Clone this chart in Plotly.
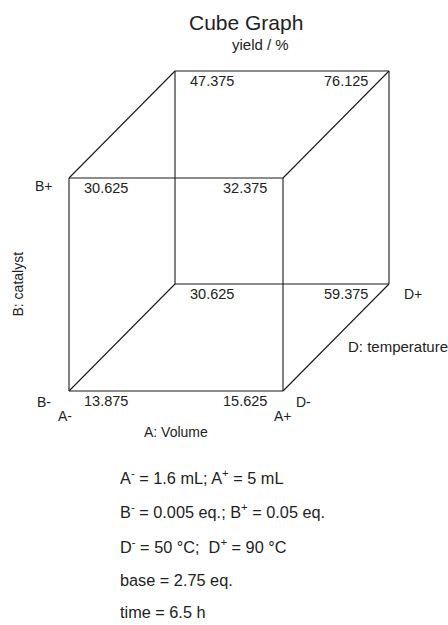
import plotly.graph_objects as go

# ---- data ----
factor_A_levels = ["A-", "A+"]
factor_B_levels = ["B-", "B+"]
factor_D_levels = ["D-", "D+"]
# yields at each corner, keyed by (A, B, D) level index
corner_keys = [(0, 0, 0), (1, 0, 0), (0, 1, 0), (1, 1, 0),
               (0, 0, 1), (1, 0, 1), (0, 1, 1), (1, 1, 1)]
yield_values = [13.875, 15.625, 30.625, 32.375,
                30.625, 59.375, 47.375, 76.125]
axis_titles = ["A: Volume", "B: catalyst", "D: temperature"]
chart_title = "Cube Graph"
value_unit = "yield / %"
conditions = [
    "A<sup>-</sup> = 1.6 mL; A<sup>+</sup> = 5 mL",
    "B<sup>-</sup> = 0.005 eq.; B<sup>+</sup> = 0.05 eq.",
    "D<sup>-</sup> = 50 °C;  D<sup>+</sup> = 90 °C",
    "base = 2.75 eq.",
    "time = 6.5 h",
]

# ---- layout / style ----
W, H = 448, 625
OX, OY = 69, 391        # pixel of origin corner
SX, SY = 214, 213       # pixels per unit
DX, DY = 106 / SX, 107 / SY  # oblique depth offset
FONT = "Liberation Sans, Arial, sans-serif"
INK = "#222222"
LINE = "#1a1a1a"


def proj(a, b, d):
    return a + DX * d, b + DY * d


fig = go.Figure()

# cube edges
ex, ey = [], []
for k in corner_keys:
    for j in range(3):
        if k[j] == 0:
            k2 = list(k)
            k2[j] = 1
            x1, y1 = proj(*k)
            x2, y2 = proj(*k2)
            ex += [x1, x2, None]
            ey += [y1, y2, None]
fig.add_trace(go.Scatter(x=ex, y=ey, mode="lines",
                         line=dict(color=LINE, width=1.1),
                         hoverinfo="skip", showlegend=False))

annotations = []
# corner values
for k, v in zip(corner_keys, yield_values):
    a, b, d = k
    x, y = proj(a, b, d)
    if a == 0:
        xs, xa = 13, "left"
    else:
        xs, xa = (-19 if d else -14), "right"
    annotations.append(dict(x=x, y=y, xref="x", yref="y", text=f"{v:.3f}",
                            showarrow=False, xanchor=xa, yanchor="middle",
                            xshift=xs, yshift=-10,
                            font=dict(family=FONT, size=14.5, color=INK)))

# factor level labels
level_specs = [
    (factor_B_levels[1], (0, 1, 0), -25, -8),
    (factor_B_levels[0], (0, 0, 0), -25, -11),
    (factor_A_levels[0], (0, 0, 0), -4, -25),
    (factor_A_levels[1], (1, 0, 0), 0, -25),
    (factor_D_levels[0], (1, 0, 0), 20, -11),
    (factor_D_levels[1], (1, 0, 1), 24, -10),
]
for txt, k, xs, ys in level_specs:
    x, y = proj(*k)
    annotations.append(dict(x=x, y=y, xref="x", yref="y", text=txt,
                            showarrow=False, xanchor="center", yanchor="middle",
                            xshift=xs, yshift=ys,
                            font=dict(family=FONT, size=14, color=INK)))

# axis titles
x, y = proj(0.5, 0, 0)
annotations.append(dict(x=x, y=y, text=axis_titles[0], showarrow=False,
                        xanchor="center", yanchor="middle", yshift=-41,
                        font=dict(family=FONT, size=14, color=INK)))
x, y = proj(0, 0.5, 0)
annotations.append(dict(x=x, y=y, text=axis_titles[1], showarrow=False,
                        textangle=-90, xanchor="center", yanchor="middle",
                        xshift=-52, font=dict(family=FONT, size=14, color=INK)))
x1, y1 = proj(1, 0, 0)
x2, y2 = proj(1, 0, 1)
annotations.append(dict(x=(x1 + x2) / 2, y=(y1 + y2) / 2, text=axis_titles[2],
                        showarrow=False, xanchor="left", yanchor="middle",
                        xshift=10, yshift=-9,
                        font=dict(family=FONT, size=15, color=INK)))

# titles
annotations.append(dict(x=246 / W, y=1 - 22 / H, xref="paper", yref="paper",
                        text=chart_title, showarrow=False, xanchor="center",
                        yanchor="middle",
                        font=dict(family=FONT, size=21, color=INK)))
annotations.append(dict(x=260 / W, y=1 - 45 / H, xref="paper", yref="paper",
                        text=value_unit, showarrow=False, xanchor="center",
                        yanchor="middle",
                        font=dict(family=FONT, size=15, color=INK)))

# condition lines
line_y = [477, 511, 546, 580, 612]
for t, py in zip(conditions, line_y):
    annotations.append(dict(x=118 / W, y=1 - py / H, xref="paper", yref="paper",
                            text=t, showarrow=False, xanchor="left",
                            yanchor="middle",
                            font=dict(family=FONT, size=16.3, color=INK)))

fig.update_layout(
    width=W, height=H,
    margin=dict(l=0, r=0, t=0, b=0),
    paper_bgcolor="white", plot_bgcolor="white",
    xaxis=dict(range=[-OX / SX, (W - OX) / SX], visible=False, fixedrange=True),
    yaxis=dict(range=[(OY - H) / SY, OY / SY], visible=False, fixedrange=True),
    annotations=annotations,
    showlegend=False,
)

fig.write_html("out.html", config={"displayModeBar": False})
